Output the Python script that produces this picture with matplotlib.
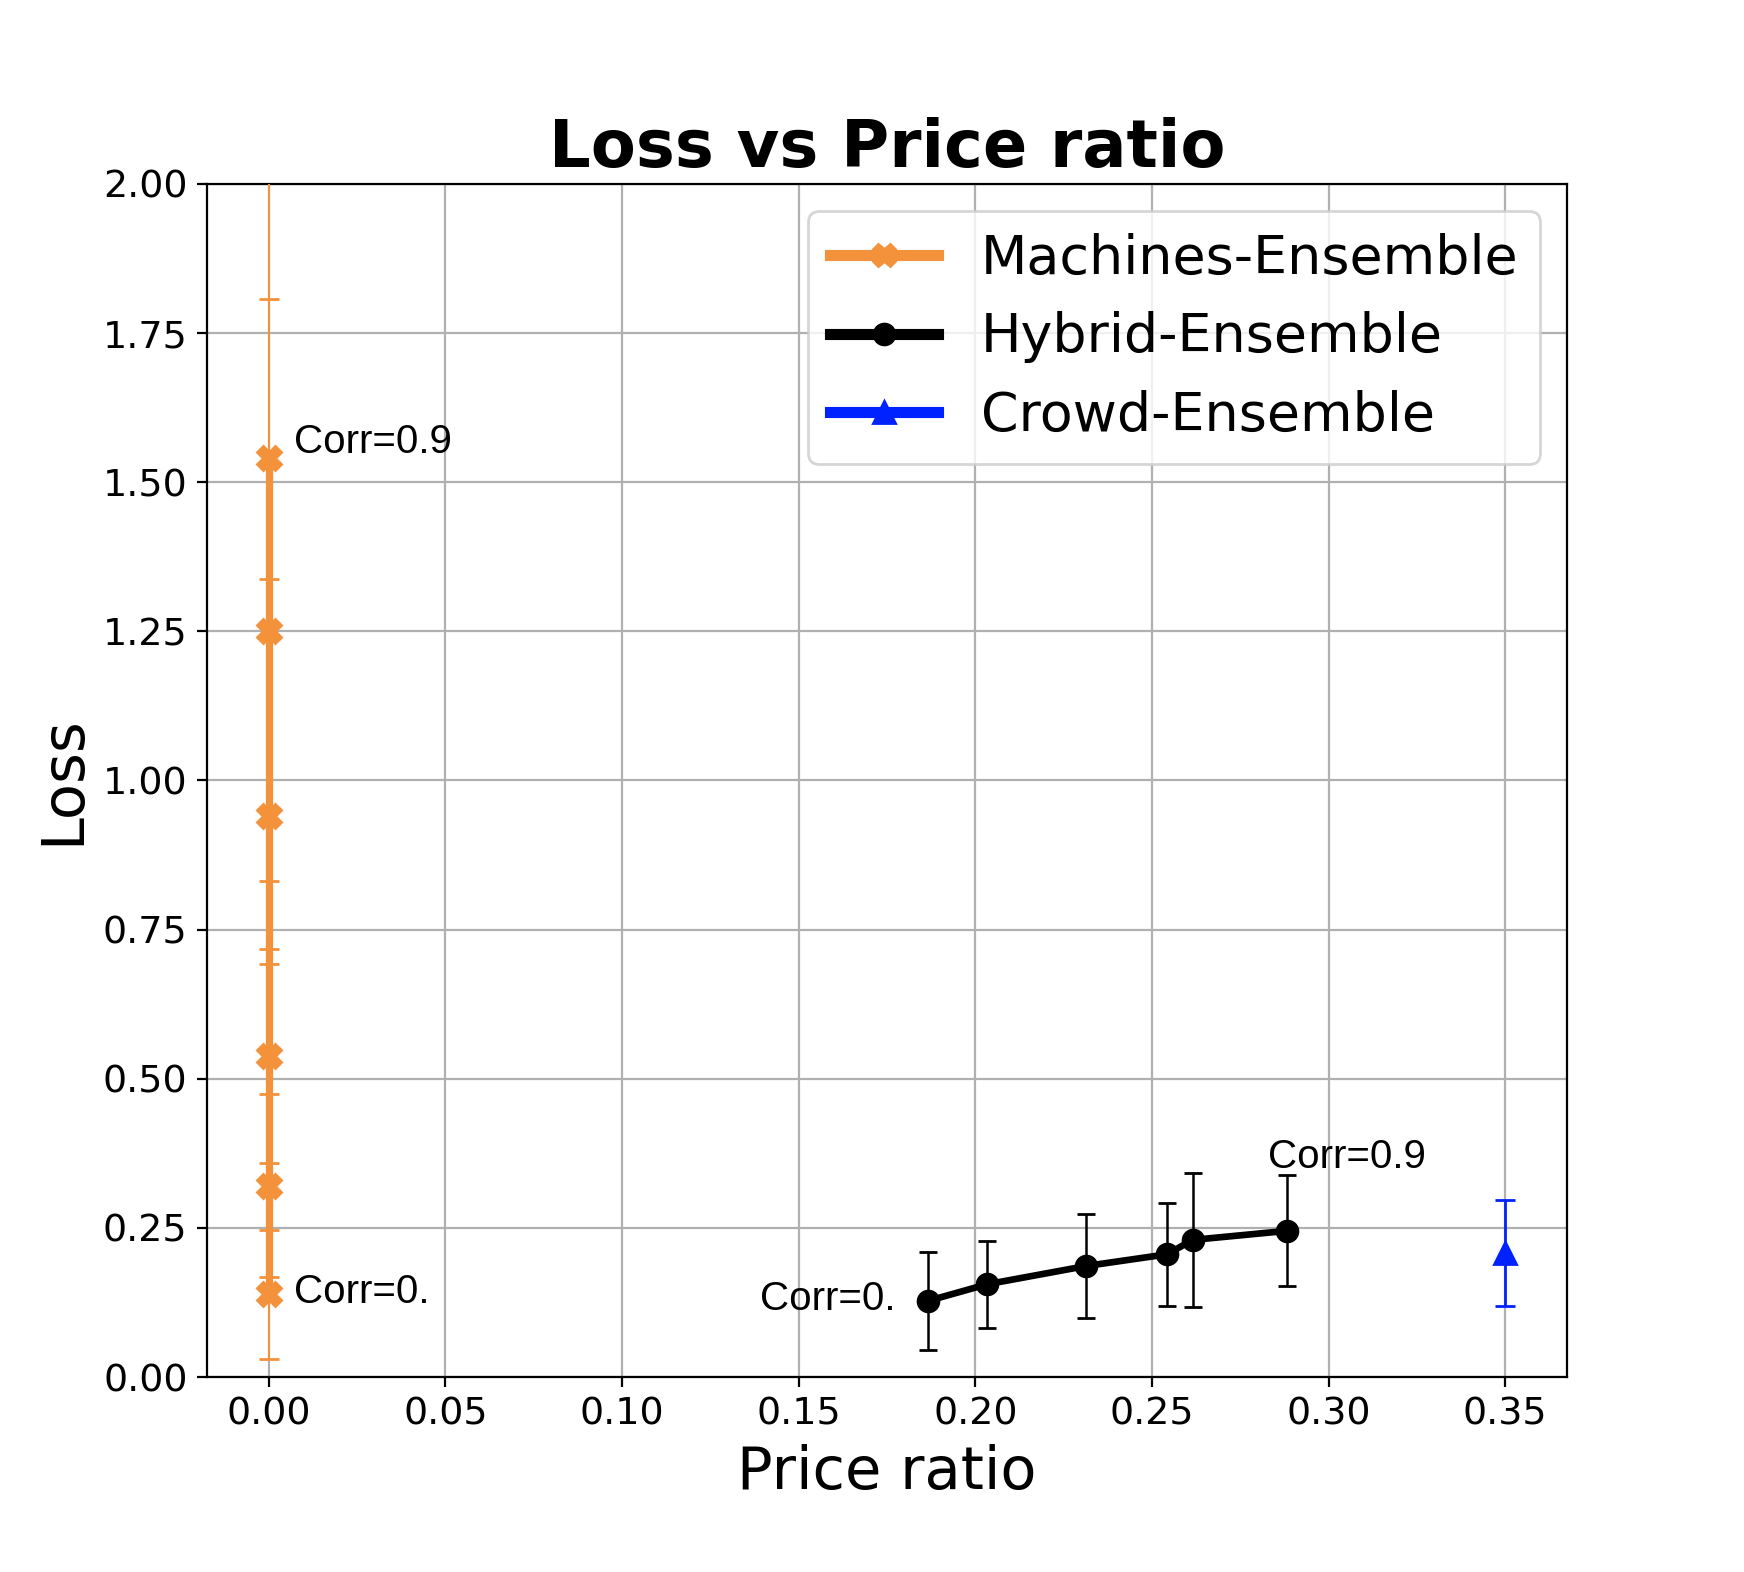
import numpy as np
import matplotlib.pyplot as plt

# Machines-Ensemble (all at price ratio 0)
mach_x = [0.0, 0.0, 0.0, 0.0, 0.0, 0.0]
mach_loss = [0.139, 0.321, 0.538, 0.941, 1.25, 1.54]
mach_err = [0.108, 0.154, 0.18, 0.396, 0.557, 0.709]

# Hybrid-Ensemble
hyb_x = [0.1865, 0.2033, 0.2314, 0.2543, 0.2615, 0.2881]
hyb_loss = [0.1275, 0.1555, 0.1862, 0.2058, 0.2299, 0.2450]
hyb_err = [0.082, 0.073, 0.087, 0.086, 0.113, 0.093]

# Crowd-Ensemble
crowd_x = [0.35]
crowd_loss = [0.208]
crowd_err = [0.089]

orange = '#f4913b'
blue = '#0022ff'

fig = plt.figure(figsize=(8.72, 7.86), dpi=200)
ax = fig.add_axes([0.1187, 0.124, 0.7798, 0.759])

ax.errorbar(mach_x, mach_loss, yerr=mach_err, color=orange, lw=2.6,
            marker='X', ms=8.5, capsize=3.5, elinewidth=0.7,
            label='Machines-Ensemble', zorder=3)
ax.errorbar(hyb_x, hyb_loss, yerr=hyb_err, color='black', lw=2.4,
            marker='o', ms=7.5, capsize=3.3, elinewidth=0.9,
            label='Hybrid-Ensemble', zorder=3)
ax.errorbar(crowd_x, crowd_loss, yerr=crowd_err, color=blue, lw=2.4,
            marker='^', ms=8, capsize=3.5, elinewidth=1.0,
            label='Crowd-Ensemble', zorder=3)

corr_font = dict(family='Liberation Sans', fontsize=14.5, va='center')
ax.text(0.007, 1.567, 'Corr=0.9', **corr_font)
ax.text(0.007, 0.142, 'Corr=0.', **corr_font)
ax.text(0.139, 0.131, 'Corr=0.', **corr_font)
ax.text(0.283, 0.369, 'Corr=0.9', **corr_font)

ax.set_ylim(0, 2.0)
ax.set_xticks(np.arange(0, 0.36, 0.05))
ax.set_yticks(np.arange(0, 2.01, 0.25))
ax.tick_params(labelsize=13.7)
ax.grid(True)

ax.set_xlabel('Price ratio', fontsize=21.3)
ax.set_ylabel('Loss', fontsize=21.3)
ax.set_title('Loss vs Price ratio', fontsize=23.6, fontweight='bold')

# legend shows lines only, no error bars
handles = [plt.Line2D([], [], color=orange, lw=4, marker='X', ms=8),
           plt.Line2D([], [], color='black', lw=4, marker='o', ms=7.5),
           plt.Line2D([], [], color=blue, lw=4, marker='^', ms=8)]
ax.legend(handles, ['Machines-Ensemble', 'Hybrid-Ensemble', 'Crowd-Ensemble'],
          loc='upper right', fontsize=19.4)

fig.savefig('out.png', dpi=200)
